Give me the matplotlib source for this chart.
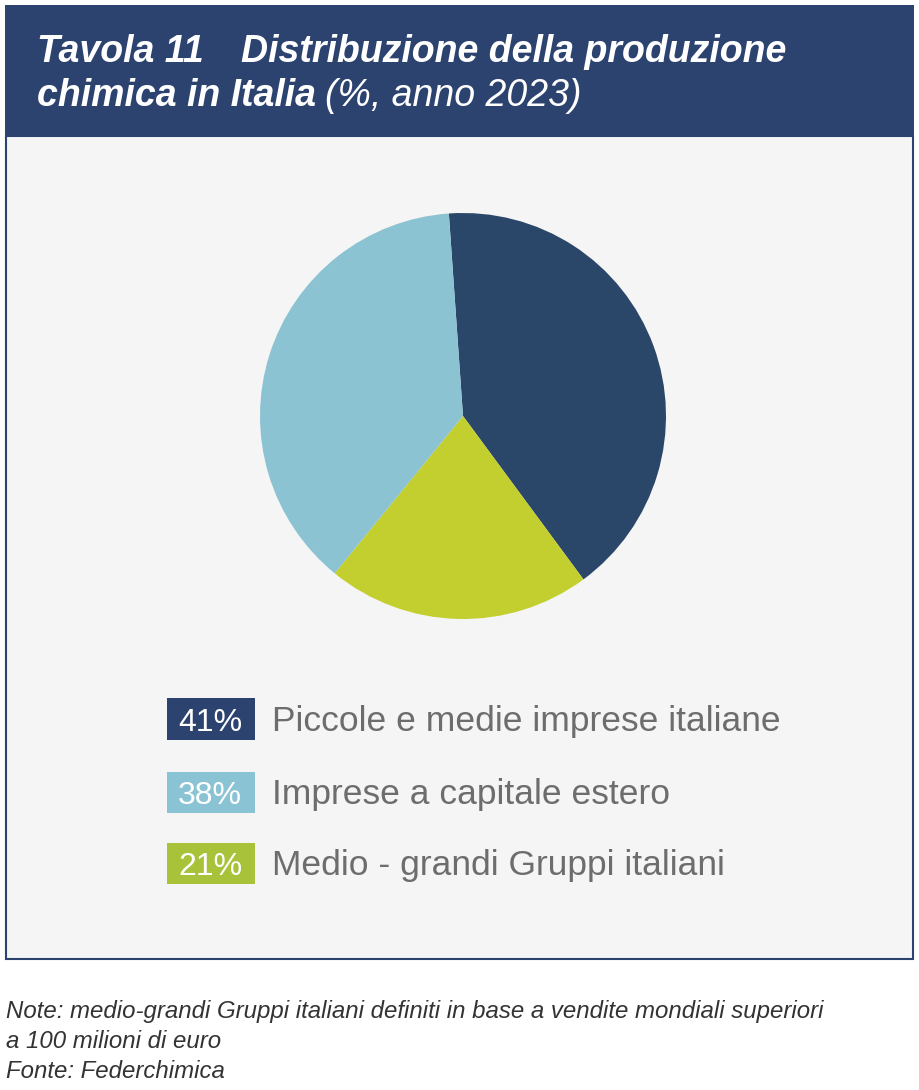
import matplotlib
matplotlib.use("Agg")
import matplotlib.pyplot as plt
from matplotlib.patches import Rectangle

# data
shares = [41, 21, 38]
slice_colors = ["#2a4769", "#c3cf2e", "#8cc3d2"]
legend_pcts = ["41%", "38%", "21%"]
legend_labels = ["Piccole e medie imprese italiane",
                 "Imprese a capitale estero",
                 "Medio - grandi Gruppi italiani"]
legend_colors = ["#2c4370", "#8ac4d4", "#a8c23a"]

W, H = 919, 1090
navy = "#2c4370"

plt.rcParams["font.family"] = ["Liberation Sans", "DejaVu Sans"]

fig = plt.figure(figsize=(W / 100, H / 100), dpi=100)
fig.patch.set_facecolor("white")


def px(x, y):
    return x / W, 1 - y / H


def box(x0, y0, x1, y1, z=1, **kw):
    fig.patches.append(Rectangle(px(x0, y1), (x1 - x0) / W, (y1 - y0) / H,
                                 transform=fig.transFigure, zorder=z, **kw))


# header band and panel
box(5, 5, 914, 136, facecolor=navy, edgecolor="none")
box(6, 136, 913, 959, z=-1, facecolor="#f5f5f5", edgecolor=navy, linewidth=1.5)

# title
tsize = 27
fig.text(*px(37, 62), "Tavola 11", fontsize=tsize, fontweight="bold", style="italic",
         color="white", va="baseline")
fig.text(*px(241, 62), "Distribuzione della produzione", fontsize=tsize, fontweight="bold",
         style="italic", color="white", va="baseline")
t2 = fig.text(*px(37, 106), "chimica in Italia", fontsize=tsize, fontweight="bold",
              style="italic", color="white", va="baseline")
r = fig.canvas.get_renderer()
bb = t2.get_window_extent(renderer=r)
fig.text(bb.x1 / W + 9 / W, 1 - 106 / H, "(%, anno 2023)", fontsize=tsize, style="italic",
         color="white", va="baseline")

# pie
cx, cy, rad = 463, 416, 203
ax = fig.add_axes([(cx - rad) / W, 1 - (cy + rad) / H, 2 * rad / W, 2 * rad / H])
ax.pie(shares, colors=slice_colors, startangle=94, counterclock=False, radius=1,
       wedgeprops=dict(linewidth=0))
ax.set_xlim(-1, 1)
ax.set_ylim(-1, 1)
ax.set_aspect("equal")
ax.axis("off")

# legend
rows = [(698, 740), (772, 813), (843, 884)]
for (y0, y1), pct, lab, col in zip(rows, legend_pcts, legend_labels, legend_colors):
    box(167, y0, 255, y1, facecolor=col, edgecolor="none")
    base = y1 - 9
    fig.text(*px(210, base), pct, fontsize=23, color="white", ha="center", va="baseline")
    fig.text(*px(272, base), lab, fontsize=25.5, color="#6d6d6d", va="baseline")

# notes
notes = ["Note: medio-grandi Gruppi italiani definiti in base a vendite mondiali superiori",
         "a 100 milioni di euro",
         "Fonte: Federchimica"]
for i, line in enumerate(notes):
    fig.text(*px(6, 1018 + 30 * i), line, fontsize=17.3, style="italic", color="#333333",
             va="baseline")

fig.savefig("out.png", dpi=100)
